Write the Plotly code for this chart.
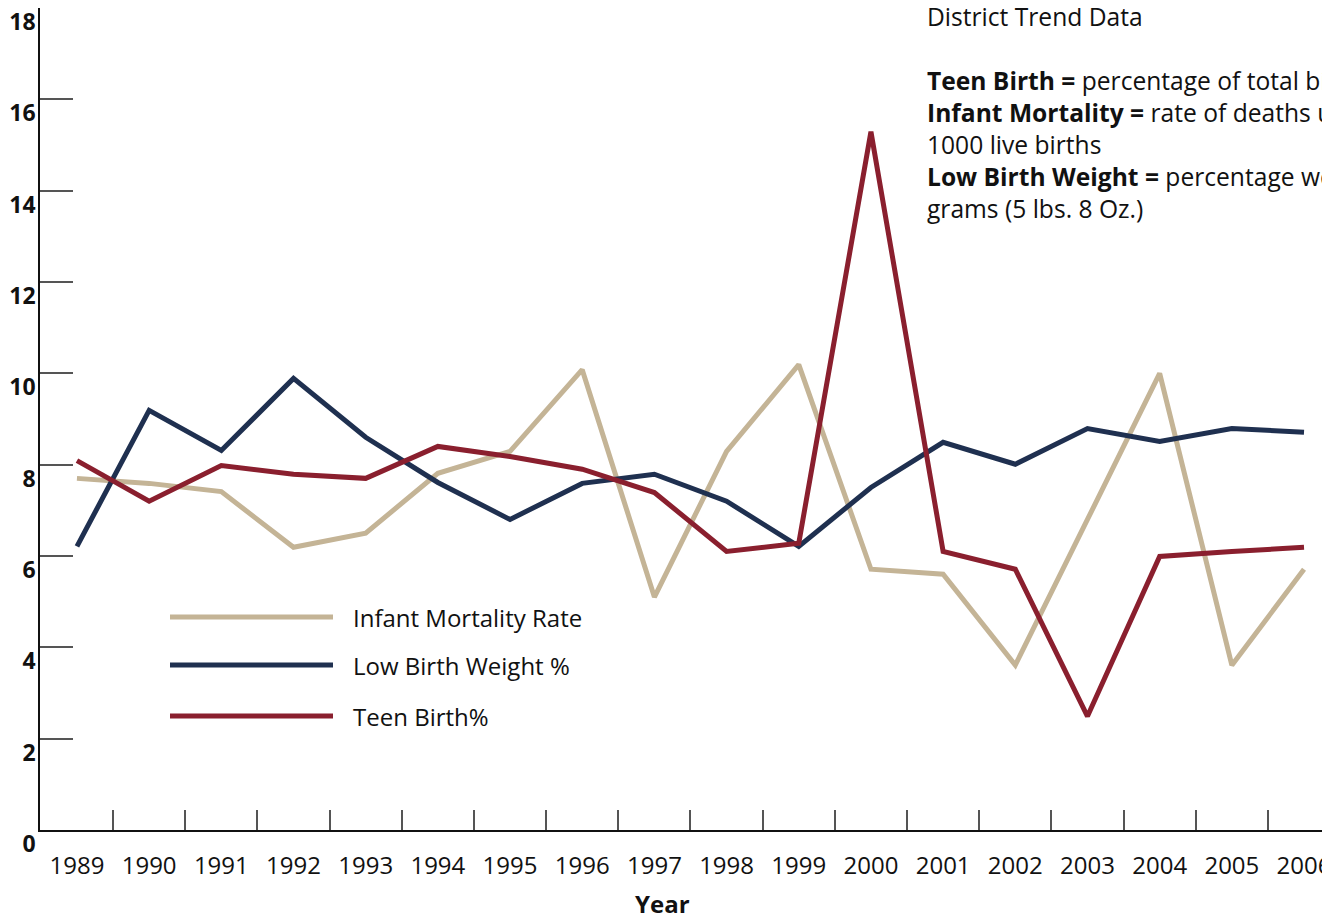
import plotly.graph_objects as go

years = [str(y) for y in range(1989, 2007)]
infant_mortality = [7.70, 7.59, 7.41, 6.19, 6.50, 7.81, 8.29, 10.08, 5.10, 8.29, 10.19, 5.71, 5.60, 3.61, 6.80, 10.00, 3.61, 5.71]
low_birth_weight = [6.21, 9.19, 8.31, 9.89, 8.60, 7.61, 6.80, 7.59, 7.79, 7.20, 6.21, 7.50, 8.49, 8.01, 8.79, 8.51, 8.79, 8.71]
teen_birth = [8.09, 7.20, 7.98, 7.79, 7.70, 8.40, 8.18, 7.90, 7.39, 6.10, 6.28, 15.29, 6.10, 5.71, 2.49, 5.99, 6.10, 6.19]

series_names = ["Infant Mortality Rate", "Low Birth Weight %", "Teen Birth%"]
series_colors = ["#C4B496", "#1F3050", "#8A1F2E"]
series_values = [infant_mortality, low_birth_weight, teen_birth]
y_ticks = [0, 2, 4, 6, 8, 10, 12, 14, 16, 18]

FONT = "Open Sans"
OFF = 8  # page body margin
W, H = 1330 - OFF, 915 - OFF
L, R, T, B = 40 - OFF, 0, 0, 85
pw, ph = W - L - R, H - T - B

def px_x(x):
    return (x - OFF - L) / pw

def px_y(y):
    return (H - B - (y - OFF)) / ph

fig = go.Figure()
for name, col, vals in zip(series_names, series_colors, series_values):
    fig.add_trace(go.Scatter(x=years, y=vals, mode="lines", name=name,
                             line=dict(color=col, width=5), showlegend=False))

# custom legend
legend_y = [617, 665, 716]
for name, col, ly in zip(series_names, series_colors, legend_y):
    fig.add_shape(type="line", xref="paper", yref="paper",
                  x0=px_x(170), x1=px_x(333), y0=px_y(ly), y1=px_y(ly),
                  line=dict(color=col, width=5))
    fig.add_annotation(xref="paper", yref="paper", x=px_x(351), y=px_y(ly),
                       text=name, showarrow=False, xanchor="left", yanchor="middle",
                       font=dict(family=FONT, size=24, color="#111"))

info = ("District Trend Data<br><br>"
        "<b>Teen Birth =</b> percentage of total births<br>"
        "<b>Infant Mortality =</b> rate of deaths under<br>"
        "1000 live births<br>"
        "<b>Low Birth Weight =</b> percentage weighing<br>"
        "grams (5 lbs. 8 Oz.)")
fig.add_annotation(xref="paper", yref="paper", x=px_x(925), y=px_y(-2),
                   text=info, showarrow=False, xanchor="left", yanchor="top",
                   align="left", font=dict(family=FONT, size=24.6, color="#111"))

fig.add_annotation(xref="paper", yref="paper", x=px_x(662), y=px_y(903),
                   text="<b>Year</b>", showarrow=False, xanchor="center", yanchor="middle",
                   font=dict(family=FONT, size=24, color="#111"))

fig.update_layout(
    width=W, height=H,
    margin=dict(l=L, r=R, t=T, b=B, autoexpand=False),
    plot_bgcolor="white", paper_bgcolor="white",
    font=dict(family=FONT, color="#111"),
)
fig.update_xaxes(type="category", range=[-0.512, 17.36], showgrid=False, automargin=False,
                 showline=True, linecolor="#111", linewidth=2,
                 ticks="inside", ticklen=20, tickcolor="#555", tickwidth=1.5,
                 tickson="boundaries", ticklabelstandoff=13, ticklabeloverflow="allow",
                 tickfont=dict(family=FONT, size=24, color="#111"), zeroline=False)
fig.update_yaxes(range=[0, 18], tickvals=y_ticks, showgrid=False, automargin=False,
                 showline=True, linecolor="#111", linewidth=1.5,
                 ticks="inside", ticklen=33, tickcolor="#555", tickwidth=1.5,
                 ticklabelshift=14, ticklabelstandoff=-2, ticklabeloverflow="allow",
                 tickfont=dict(family=FONT, size=23, color="#111", weight="bold"),
                 zeroline=False)

fig.write_html("out.html")
